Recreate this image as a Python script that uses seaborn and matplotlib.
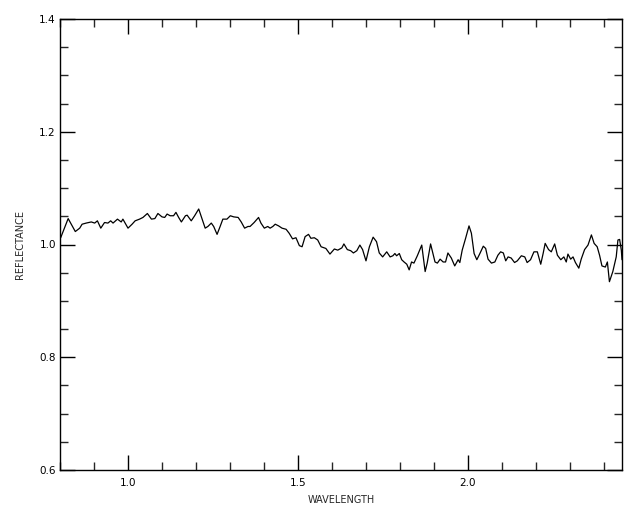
import matplotlib
matplotlib.use("Agg")
import matplotlib.pyplot as plt
from matplotlib.ticker import MultipleLocator
import seaborn as sns
import pandas as pd

wavelength = [0.802, 0.824, 0.845, 0.858, 0.865, 0.877, 0.892, 0.902, 0.910, 0.920,
              0.931, 0.941, 0.949, 0.956, 0.969, 0.980, 0.985, 1.000, 1.012, 1.021,
              1.034, 1.044, 1.057, 1.069, 1.079, 1.088, 1.100, 1.108, 1.115, 1.124,
              1.134, 1.141, 1.149, 1.157, 1.169, 1.174, 1.186, 1.196, 1.208, 1.218,
              1.227, 1.235, 1.245, 1.252, 1.262, 1.271, 1.279, 1.291, 1.301, 1.311,
              1.324, 1.333, 1.343, 1.353, 1.359, 1.371, 1.384, 1.391, 1.401, 1.411,
              1.418, 1.426, 1.433, 1.443, 1.453, 1.465, 1.474, 1.484, 1.494, 1.504,
              1.512, 1.521, 1.531, 1.538, 1.548, 1.558, 1.568, 1.582, 1.594, 1.607,
              1.617, 1.629, 1.635, 1.645, 1.655, 1.663, 1.673, 1.682, 1.690, 1.700,
              1.710, 1.721, 1.731, 1.739, 1.749, 1.761, 1.771, 1.779, 1.785, 1.790,
              1.798, 1.805, 1.812, 1.820, 1.827, 1.834, 1.841, 1.851, 1.864, 1.874,
              1.880, 1.890, 1.903, 1.910, 1.918, 1.927, 1.934, 1.941, 1.951, 1.961,
              1.971, 1.976, 1.983, 1.993, 2.003, 2.010, 2.018, 2.026, 2.035, 2.045,
              2.052, 2.059, 2.069, 2.079, 2.088, 2.096, 2.104, 2.111, 2.118, 2.127,
              2.137, 2.145, 2.157, 2.167, 2.174, 2.184, 2.194, 2.204, 2.214, 2.221,
              2.227, 2.237, 2.245, 2.255, 2.263, 2.273, 2.282, 2.289, 2.294, 2.302,
              2.309, 2.316, 2.326, 2.333, 2.343, 2.353, 2.363, 2.371, 2.380, 2.387,
              2.394, 2.404, 2.410, 2.416, 2.426, 2.436, 2.441, 2.446, 2.451, 2.453]

reflectance = [1.012, 1.046, 1.023, 1.029, 1.036, 1.038, 1.040, 1.038, 1.042, 1.029,
               1.039, 1.038, 1.042, 1.038, 1.045, 1.040, 1.045, 1.029, 1.036, 1.042,
               1.045, 1.048, 1.055, 1.045, 1.046, 1.055, 1.049, 1.048, 1.054, 1.051,
               1.051, 1.057, 1.048, 1.040, 1.051, 1.052, 1.042, 1.051, 1.063, 1.045,
               1.029, 1.032, 1.038, 1.032, 1.018, 1.032, 1.045, 1.045, 1.051, 1.049,
               1.048, 1.040, 1.029, 1.032, 1.032, 1.039, 1.048, 1.038, 1.029, 1.032,
               1.029, 1.032, 1.036, 1.033, 1.029, 1.027, 1.020, 1.010, 1.012, 0.998,
               0.996, 1.014, 1.018, 1.011, 1.012, 1.008, 0.996, 0.993, 0.983, 0.992,
               0.990, 0.994, 1.001, 0.991, 0.989, 0.985, 0.989, 0.999, 0.991, 0.971,
               0.996, 1.013, 1.005, 0.985, 0.978, 0.987, 0.978, 0.980, 0.984, 0.980,
               0.984, 0.973, 0.969, 0.965, 0.955, 0.969, 0.967, 0.980, 0.999, 0.952,
               0.967, 1.001, 0.969, 0.967, 0.974, 0.969, 0.969, 0.985, 0.976, 0.962,
               0.973, 0.968, 0.990, 1.011, 1.033, 1.020, 0.984, 0.973, 0.984, 0.997,
               0.993, 0.974, 0.967, 0.969, 0.981, 0.987, 0.985, 0.971, 0.978, 0.976,
               0.968, 0.971, 0.980, 0.978, 0.968, 0.973, 0.987, 0.987, 0.965, 0.984,
               1.002, 0.991, 0.987, 1.001, 0.981, 0.973, 0.978, 0.969, 0.983, 0.974,
               0.978, 0.968, 0.958, 0.974, 0.991, 0.999, 1.017, 1.002, 0.996, 0.981,
               0.962, 0.960, 0.969, 0.934, 0.952, 0.978, 1.008, 1.009, 0.990, 0.973]

x_ticks = [1.0, 1.5, 2.0]
x_tick_labels = ["1.0", "1.5", "2.0"]
y_ticks = [0.6, 0.8, 1.0, 1.2, 1.4]
y_tick_labels = ["0.6", "0.8", "1.0", "1.2", "1.4"]

df = pd.DataFrame({"WAVELENGTH": wavelength, "REFLECTANCE": reflectance})

sns.set_style("white")
plt.rcParams["font.family"] = ["DejaVu Sans"]

fig = plt.figure(figsize=(6.4, 5.12), dpi=100)
ax = fig.add_axes([60 / 640, 42 / 512, 562 / 640, 451 / 512])

sns.lineplot(data=df, x="WAVELENGTH", y="REFLECTANCE", ax=ax,
             color="black", linewidth=0.9, estimator=None, sort=False)

ax.set_xlim(0.8, 2.453)
ax.set_ylim(0.6, 1.4)
ax.set_xticks(x_ticks)
ax.set_xticklabels(x_tick_labels)
ax.set_yticks(y_ticks)
ax.set_yticklabels(y_tick_labels)
ax.xaxis.set_minor_locator(MultipleLocator(0.1))
ax.yaxis.set_minor_locator(MultipleLocator(0.05))

ax.tick_params(axis="both", which="major", direction="in", length=11, width=1,
               bottom=True, left=True, top=True, right=True,
               labelsize=7.5, colors="black", pad=6)
ax.tick_params(axis="both", which="minor", direction="in", length=6, width=1,
               bottom=True, left=True, top=True, right=True)
ax.tick_params(axis="y", which="major", pad=3)

for s in ax.spines.values():
    s.set_color("black")
    s.set_linewidth(1)

ax.set_xlabel("WAVELENGTH", fontsize=7, labelpad=5)
ax.set_ylabel("REFLECTANCE", fontsize=7, labelpad=10)

fig.savefig("out.png", dpi=100, facecolor="white")
